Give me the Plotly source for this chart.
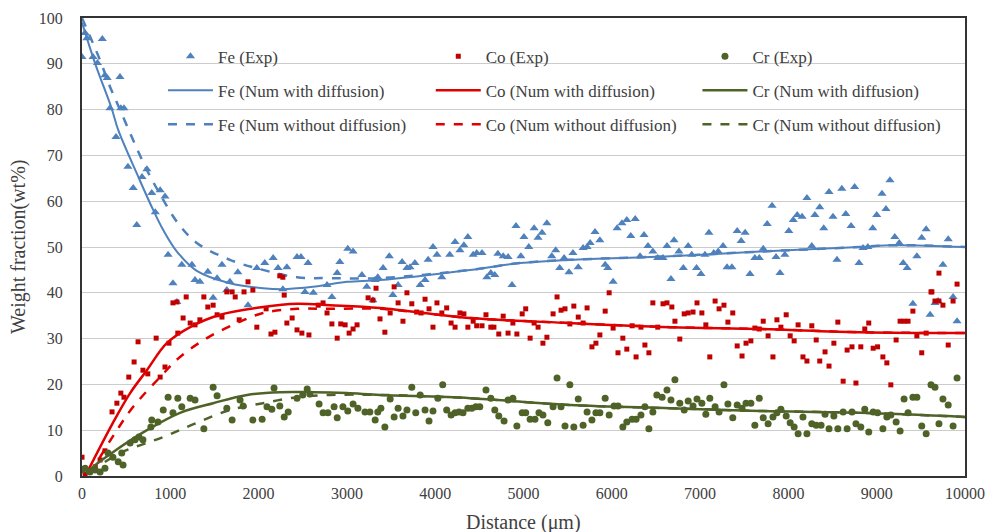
import plotly.graph_objects as go

# ---------------- data ----------------
fe_exp_x = [0, 35, 55, 125, 175, 230, 260, 285, 317, 385, 430, 440, 475, 520, 580, 620, 680, 735, 790, 830,
            885, 940, 975, 1030, 1075, 1130, 1245, 1280, 1335, 1425, 1485, 1530, 1585, 1640, 1675, 1765, 1880, 1980,
            2070, 2165, 2220, 2275, 2320, 2435, 2480, 2525, 2560, 2620, 2775, 2830, 2890, 2920, 3010, 3070, 3170,
            3225, 3295, 3320, 3350, 3410, 3480, 3520, 3580, 3625, 3680, 3715, 3770, 3830, 3885, 3920, 3975, 4020,
            4075, 4165, 4225, 4280, 4325, 4370, 4430, 4470, 4530, 4585, 4630, 4675, 4710, 4770, 4825, 4870, 4915,
            4970, 5005, 5060, 5120, 5165, 5210, 5265, 5320, 5365, 5410, 5460, 5515, 5560, 5620, 5675, 5720, 5755,
            5810, 5865, 5925, 5955, 6015, 6060, 6115, 6170, 6215, 6265, 6320, 6365, 6410, 6465, 6520, 6580, 6625,
            6670, 6705, 6760, 6810, 6865, 6905, 6960, 7010, 7055, 7100, 7155, 7205, 7260, 7305, 7360, 7420, 7465,
            7510, 7565, 7620, 7670, 7715, 7760, 7815, 7860, 7905, 7960, 8005, 8055, 8100, 8155, 8210, 8265, 8300,
            8355, 8400, 8460, 8505, 8550, 8605, 8650, 8710, 8750, 8800, 8845, 8900, 8955, 9000, 9060, 9105, 9150,
            9205, 9255, 9300, 9345, 9410, 9455, 9510, 9560, 9605, 9660, 9695, 9750, 9810, 9865, 9910]
fe_exp_y = [91.5, 96.7, 95.6, 91.5, 90.2, 95.4, 87.5, 86.9, 80.3, 74.0, 87.1, 80.3, 80.3, 67.5, 62.9, 54.8, 65.3,
            67.0, 61.8, 57.6, 62.4, 61.0, 48.3, 42.1, 38.0, 46.1, 46.1, 42.8, 42.4, 44.6, 38.9, 43.2, 46.1, 40.6,
            42.4, 44.5, 37.3, 45.4, 46.5, 47.6, 45.4, 40.8, 45.6, 47.8, 47.8, 40.2, 46.5, 40.0, 41.7, 39.1, 44.3,
            46.7, 49.6, 49.0, 43.9, 41.3, 38.4, 42.8, 43.4, 45.4, 48.0, 39.5, 41.7, 46.7, 45.4, 45.6, 46.5, 41.7,
            42.8, 47.2, 50.0, 48.3, 43.4, 48.3, 51.1, 49.3, 50.4, 52.2, 48.3, 48.7, 48.7, 43.4, 44.3, 43.9, 48.5,
            48.0, 47.8, 41.7, 54.6, 48.0, 52.2, 50.0, 54.1, 52.0, 53.1, 55.2, 48.0, 49.3, 45.4, 47.6, 44.5, 48.7,
            45.6, 49.8, 50.0, 50.9, 53.3, 51.5, 46.1, 45.4, 42.4, 54.1, 55.2, 55.9, 52.4, 56.1, 48.0, 52.6, 50.2,
            49.0, 47.6, 47.6, 50.2, 43.0, 51.5, 49.0, 45.4, 50.2, 48.3, 45.4, 44.1, 48.3, 53.1, 48.7, 49.0, 50.2,
            45.6, 45.6, 53.5, 51.3, 53.1, 44.1, 47.6, 47.6, 49.6, 55.0, 59.0, 47.8, 44.3, 48.3, 53.5, 55.9, 57.0,
            56.6, 60.7, 50.2, 57.0, 58.7, 54.1, 62.0, 56.6, 47.2, 62.7, 57.2, 54.6, 63.1, 46.5, 49.8, 50.0, 54.1,
            57.0, 61.6, 58.3, 64.6, 52.2, 50.9, 46.5, 45.4, 37.6, 48.0, 52.0, 53.9, 35.2, 37.8, 38.2, 46.1, 51.7,
            39.1, 33.8]

co_exp_x = [0, 35, 90, 150, 205, 260, 340, 395, 440, 475, 530, 590, 635, 690, 745, 840, 885, 940, 985, 1030,
            1075, 1085, 1145, 1180, 1225, 1280, 1335, 1380, 1425, 1485, 1530, 1585, 1640, 1700, 1735, 1780, 1835,
            1880, 1935, 1980, 2085, 2140, 2185, 2240, 2275, 2290, 2320, 2380, 2435, 2490, 2570, 2675, 2730, 2775,
            2830, 2890, 2930, 2980, 3025, 3070, 3115, 3240, 3295, 3330, 3375, 3430, 3490, 3535, 3580, 3635, 3680,
            3735, 3790, 3840, 3885, 3930, 3975, 4020, 4075, 4130, 4180, 4225, 4280, 4325, 4370, 4430, 4470, 4530,
            4575, 4630, 4665, 4720, 4770, 4825, 4880, 4925, 4985, 5025, 5075, 5120, 5165, 5220, 5265, 5335, 5380,
            5425, 5470, 5525, 5570, 5620, 5675, 5720, 5775, 5820, 5865, 5925, 5970, 6015, 6070, 6125, 6170, 6230,
            6275, 6330, 6375, 6420, 6465, 6520, 6580, 6625, 6680, 6715, 6770, 6820, 6865, 6920, 6965, 7020, 7065,
            7110, 7170, 7215, 7270, 7315, 7370, 7420, 7475, 7520, 7575, 7620, 7670, 7715, 7770, 7825, 7870, 7915,
            7975, 8020, 8065, 8110, 8165, 8210, 8265, 8315, 8355, 8415, 8460, 8515, 8560, 8620, 8665, 8720, 8765,
            8820, 8865, 8910, 8960, 9010, 9070, 9115, 9160, 9220, 9265, 9310, 9355, 9410, 9455, 9510, 9560, 9615,
            9625, 9660, 9705, 9705, 9750, 9810, 9865, 9910]
co_exp_y = [4.1, 0.4, 1.0, 2.0, 3.5, 5.5, 14.0, 15.9, 18.1, 17.2, 21.6, 24.9, 29.3, 23.1, 22.3, 30.1, 21.6, 23.8,
            29.0, 37.8, 38.0, 31.2, 34.5, 39.1, 33.4, 33.0, 34.1, 39.1, 36.9, 37.3, 35.2, 34.7, 40.2, 40.2, 39.1,
            34.1, 40.2, 42.4, 40.6, 32.5, 36.5, 31.0, 31.4, 43.7, 43.4, 39.5, 33.4, 34.5, 31.9, 31.2, 30.8, 37.3,
            37.8, 35.6, 33.2, 30.1, 33.2, 33.0, 31.2, 32.1, 33.0, 38.9, 38.4, 41.0, 34.3, 31.4, 35.6, 41.3, 37.8,
            33.8, 40.0, 37.6, 35.8, 35.6, 38.6, 36.5, 32.5, 37.8, 35.6, 36.7, 33.4, 32.5, 35.6, 35.4, 32.5, 33.8,
            32.8, 32.8, 35.2, 32.5, 32.5, 31.0, 34.9, 31.2, 33.4, 31.0, 35.4, 36.5, 30.1, 33.4, 32.5, 29.0, 30.3,
            35.4, 39.1, 36.2, 36.5, 33.2, 37.1, 34.7, 33.4, 36.7, 28.2, 29.0, 30.8, 36.0, 40.0, 32.3, 26.9, 30.1,
            27.7, 32.8, 26.0, 32.5, 28.6, 26.9, 37.8, 32.5, 37.6, 37.8, 36.9, 33.8, 29.9, 35.4, 35.6, 35.8, 37.8,
            35.6, 33.0, 26.0, 38.2, 36.5, 37.3, 33.6, 35.6, 28.4, 26.2, 29.0, 29.5, 32.3, 32.1, 33.8, 30.6, 26.0,
            34.1, 32.5, 35.2, 30.6, 29.5, 33.0, 26.0, 25.1, 32.8, 29.7, 25.1, 27.1, 24.0, 29.0, 33.6, 20.7, 27.5,
            28.2, 20.3, 28.2, 32.1, 33.4, 27.9, 28.2, 26.0, 24.7, 19.9, 29.7, 33.8, 33.8, 33.8, 36.0, 30.6, 26.9,
            31.2, 40.2, 40.2, 38.2, 38.2, 44.3, 37.3, 28.6, 38.2, 41.9]

cr_exp_x = [0, 35, 90, 150, 205, 260, 295, 350, 410, 450, 465, 545, 600, 645, 690, 780, 790, 860, 920, 975, 1030,
            1085, 1130, 1225, 1280, 1380, 1485, 1530, 1640, 1700, 1790, 1825, 1935, 2040, 2095, 2150, 2175, 2240,
            2290, 2335, 2435, 2500, 2550, 2580, 2685, 2730, 2785, 2855, 2890, 2955, 3010, 3070, 3125, 3205, 3260,
            3320, 3350, 3385, 3430, 3490, 3535, 3580, 3635, 3680, 3735, 3780, 3830, 3885, 3930, 3975, 4030, 4085,
            4130, 4180, 4225, 4270, 4315, 4370, 4415, 4460, 4505, 4575, 4630, 4675, 4720, 4780, 4825, 4880, 4925,
            4985, 5025, 5075, 5130, 5175, 5220, 5275, 5335, 5380, 5425, 5470, 5525, 5570, 5620, 5675, 5720, 5775,
            5820, 5865, 5925, 5970, 6025, 6070, 6125, 6170, 6230, 6275, 6330, 6375, 6420, 6465, 6510, 6570, 6625,
            6670, 6715, 6770, 6820, 6865, 6920, 6965, 7020, 7065, 7110, 7170, 7215, 7270, 7315, 7370, 7420, 7475,
            7520, 7575, 7620, 7670, 7715, 7770, 7825, 7870, 7915, 7975, 8020, 8065, 8110, 8165, 8210, 8265, 8315,
            8370, 8415, 8460, 8515, 8560, 8620, 8665, 8720, 8765, 8820, 8865, 8910, 8960, 9010, 9070, 9115, 9160,
            9220, 9265, 9310, 9355, 9410, 9455, 9510, 9560, 9615, 9660, 9705, 9750, 9810, 9865, 9910]
cr_exp_y = [1.3, 1.7, 0.9, 1.3, 0.9, 1.7, 5.0, 4.1, 3.1, 5.0, 2.4, 7.2, 7.9, 8.5, 7.9, 10.7, 12.2, 11.8, 14.4,
            17.2, 13.8, 17.0, 15.1, 17.0, 16.6, 10.3, 19.4, 17.5, 14.8, 12.2, 16.6, 15.3, 12.2, 12.4, 15.1, 14.6,
            19.2, 15.3, 12.9, 14.0, 17.0, 17.7, 19.0, 17.9, 15.7, 13.8, 13.8, 15.1, 12.7, 15.1, 14.2, 15.7, 14.8,
            14.0, 14.0, 12.2, 14.0, 14.8, 10.7, 16.8, 12.9, 14.8, 13.1, 14.4, 19.4, 13.8, 17.7, 14.4, 12.0, 14.2,
            17.0, 19.9, 14.4, 13.3, 13.8, 14.0, 13.8, 14.8, 14.8, 15.1, 15.1, 18.8, 17.0, 14.4, 13.1, 12.0, 16.6,
            17.0, 10.9, 13.8, 13.8, 12.4, 12.4, 13.8, 13.3, 11.6, 15.1, 21.4, 15.1, 10.9, 19.9, 10.7, 16.8, 11.1,
            14.0, 12.2, 13.8, 13.8, 17.0, 13.3, 15.3, 15.3, 10.7, 11.8, 12.4, 12.4, 13.3, 15.1, 10.3, 14.0, 17.7,
            17.2, 18.8, 16.6, 21.0, 15.9, 14.4, 16.4, 15.3, 16.8, 15.9, 13.5, 17.0, 15.1, 14.0, 19.9, 15.7, 12.7,
            15.5, 14.8, 15.9, 15.9, 11.1, 17.0, 12.7, 11.4, 12.9, 13.8, 14.6, 13.1, 11.6, 10.7, 9.2, 12.9, 9.2,
            11.4, 11.1, 11.1, 13.5, 10.3, 13.1, 10.3, 14.0, 10.3, 14.0, 11.4, 10.7, 14.6, 9.6, 14.0, 13.8, 10.3,
            12.9, 13.3, 11.8, 9.8, 16.8, 13.8, 17.2, 17.2, 10.9, 9.2, 19.9, 19.4, 11.4, 16.8, 15.5, 10.9, 21.4]

# numerical curves
fe_with_x = [0, 150, 335, 411, 638, 789, 920, 1075, 1300, 1675, 2050, 2300, 2615, 3000, 3375, 4395, 4960, 5525,
             6660, 7680, 8810, 9185, 10000]
fe_with_y = [99.0, 90.0, 80.3, 75.5, 65.3, 58.8, 53.7, 49.0, 44.8, 42.1, 41.0, 40.8, 41.3, 42.4, 42.8, 45.0, 46.5,
             47.2, 48.0, 49.0, 50.0, 50.4, 50.0]
fe_without_x = [0, 200, 317, 430, 578, 735, 885, 1075, 1300, 1675, 2050, 2435, 2810, 3375, 4395, 4960, 5525,
                6660, 7680, 8810, 9185, 10000]
fe_without_y = [100.0, 91.0, 85.0, 80.0, 73.4, 66.8, 61.5, 55.5, 50.9, 47.2, 45.0, 43.4, 43.2, 43.2, 45.0, 46.5,
                47.2, 48.0, 49.0, 50.0, 50.4, 50.0]

co_with_x = [50, 350, 545, 735, 960, 1225, 1565, 2050, 2435, 2810, 3375, 4395, 5525, 6660, 7680, 8810, 10000]
co_with_y = [0.5, 11.6, 18.1, 23.1, 29.0, 32.5, 35.2, 36.9, 37.6, 37.3, 36.7, 34.5, 33.4, 32.5, 32.1, 31.4, 31.2]
co_without_x = [90, 395, 580, 885, 1110, 1415, 1755, 2050, 2435, 2810, 3375, 4395, 5525, 6660, 7680, 8810, 10000]
co_without_y = [0.5, 10.0, 15.1, 21.6, 26.0, 30.1, 33.4, 35.6, 36.5, 36.5, 36.5, 34.5, 33.4, 32.5, 32.1, 31.4, 31.2]

cr_with_x = [50, 125, 350, 735, 1110, 1485, 1870, 2240, 2615, 3000, 3375, 4395, 5525, 6660, 7680, 8810, 10000]
cr_with_y = [0.5, 2.0, 5.2, 10.0, 13.8, 15.9, 17.7, 18.3, 18.3, 18.1, 17.7, 17.0, 15.5, 14.8, 14.2, 13.8, 12.9]
cr_without_x = [90, 430, 920, 1300, 1675, 2050, 2435, 2810, 3375, 4395, 5525, 6660, 7680, 8810, 10000]
cr_without_y = [0.8, 5.0, 8.5, 11.6, 14.4, 15.9, 17.2, 17.7, 17.7, 17.0, 15.5, 14.8, 14.2, 13.8, 12.9]

x_ticks = [0, 1000, 2000, 3000, 4000, 5000, 6000, 7000, 8000, 9000, 10000]
y_ticks = [0, 10, 20, 30, 40, 50, 60, 70, 80, 90, 100]

# ---------------- styles ----------------
FE = "#4F81BD"
CO_M = "#C00000"
CO_L = "#E00000"
CR = "#4F6228"
FONT = "Liberation Serif"
TXT = "#404040"

fig = go.Figure()

def add(x, y, name, legend, group, **kw):
    fig.add_trace(go.Scatter(x=x, y=y, name=name, legend=legend, legendgroup=group, **kw))

add(fe_exp_x, fe_exp_y, "Fe (Exp)", "legend", "a1", mode="markers",
    marker=dict(symbol="triangle-up", size=8, color=FE))
add(fe_with_x, fe_with_y, "Fe (Num with diffusion)", "legend", "a2", mode="lines",
    line=dict(color=FE, width=2, shape="spline"))
add(fe_without_x, fe_without_y, "Fe (Num without diffusion)", "legend", "a3", mode="lines",
    line=dict(color=FE, width=2.5, dash="dash", shape="spline"))
add(co_exp_x, co_exp_y, "Co (Exp)", "legend2", "b1", mode="markers",
    marker=dict(symbol="square", size=5, color=CO_M))
add(co_with_x, co_with_y, "Co (Num with diffusion)", "legend2", "b2", mode="lines",
    line=dict(color=CO_L, width=2.5, shape="spline"))
add(co_without_x, co_without_y, "Co (Num without diffusion)", "legend2", "b3", mode="lines",
    line=dict(color=CO_L, width=2.5, dash="dash", shape="spline"))
add(cr_exp_x, cr_exp_y, "Cr (Exp)", "legend3", "c1", mode="markers",
    marker=dict(symbol="circle", size=7, color=CR))
add(cr_with_x, cr_with_y, "Cr (Num with diffusion)", "legend3", "c2", mode="lines",
    line=dict(color=CR, width=2.5, shape="spline"))
add(cr_without_x, cr_without_y, "Cr (Num without diffusion)", "legend3", "c3", mode="lines",
    line=dict(color=CR, width=2.5, dash="dash", shape="spline"))

def leg(x):
    return dict(x=x, y=0.955, xanchor="left", yanchor="top", orientation="v",
                bgcolor="rgba(255,255,255,0)", tracegroupgap=9, itemwidth=45,
                font=dict(family=FONT, size=17, color=TXT), traceorder="grouped")

fig.update_layout(
    width=990, height=532,
    margin=dict(l=82, r=25, t=18, b=56),
    paper_bgcolor="white", plot_bgcolor="white",
    font=dict(family=FONT, color=TXT, size=16),
    showlegend=True,
    legend=leg(0.0917), legend2=leg(0.395), legend3=leg(0.697),
    shapes=[dict(type="rect", xref="paper", yref="paper", x0=0.088, x1=0.985, y0=0.745, y1=0.945,
                 fillcolor="white", line=dict(width=0), layer="between")],
    annotations=[
        dict(text="Distance (μm)", xref="paper", yref="paper", x=0.5, y=-0.102,
             xanchor="center", yanchor="middle", showarrow=False,
             font=dict(family=FONT, size=20, color=TXT)),
        dict(text="Weight fraction(wt%)", xref="paper", yref="paper", x=-0.0725, y=0.50,
             xanchor="center", yanchor="middle", showarrow=False, textangle=-90,
             font=dict(family=FONT, size=20, color=TXT)),
    ],
    xaxis=dict(range=[0, 10000], tickvals=x_ticks, ticktext=[str(v) for v in x_ticks],
               showgrid=False, zeroline=False, showline=True, mirror=True, automargin=False,
               linecolor="#333333", linewidth=2, ticks="outside", ticklen=2, tickcolor="rgba(0,0,0,0)",
               tickfont=dict(family=FONT, size=16, color=TXT)),
    yaxis=dict(range=[0, 100], tickvals=y_ticks, ticktext=[str(v) for v in y_ticks],
               showgrid=True, gridcolor="#CCCCCC", gridwidth=1, zeroline=False, automargin=False,
               showline=True, mirror=True, linecolor="#333333", linewidth=2,
               ticks="outside", ticklen=14, tickcolor="rgba(0,0,0,0)",
               tickfont=dict(family=FONT, size=16, color=TXT)),
)

fig.write_html("out.html")
